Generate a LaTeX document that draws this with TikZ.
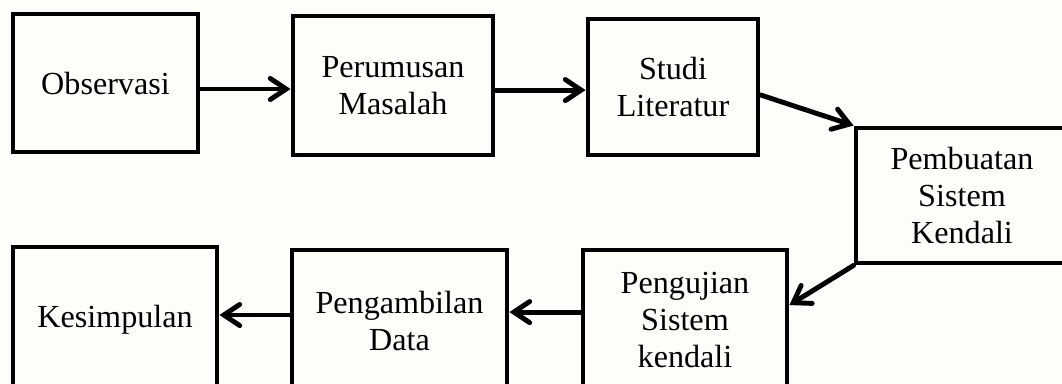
\documentclass[tikz,border=0pt]{standalone}
\usepackage{fontspec}
\setmainfont{Liberation Serif}
\usetikzlibrary{arrows.meta}
\definecolor{kertas}{RGB}{253,253,250}
\tikzset{
    blok/.style={draw, line width=2.8pt, align=center, inner sep=0pt,
        font=\fontsize{18.3}{21.3}\selectfont},
    panah/.style={line width=2.8pt, line cap=round,
        -{Straight Barb[length=9pt, width=12pt, line cap=round]}}
}
\begin{document}
\begin{tikzpicture}[x=0.02cm, y=-0.02cm] % one unit = one pixel of the page
    % Page and background
    \useasboundingbox (0, 0) rectangle (1062, 383);
    \fill[kertas] (0, 0) rectangle (1062, 383);

    % Top row
    \node[blok, minimum width=3.70cm, minimum height=2.76cm] (obs) at (105.5, 83) {Observasi};
    \node[blok, minimum width=4.00cm, minimum height=2.78cm] (rumus) at (393, 85.5) {Perumusan\\Masalah};
    \node[blok, minimum width=3.40cm, minimum height=2.72cm] (studi) at (673, 87) {Studi\\Literatur};

    % Right box
    \node[blok, minimum width=4.24cm, minimum height=2.70cm] (buat) at (962, 195.5) {Pembuatan\\Sistem\\Kendali};

    % Bottom row
    \node[blok, minimum width=4.08cm, minimum height=2.80cm] (uji) at (685, 320) {Pengujian\\Sistem\\kendali};
    \node[blok, minimum width=4.30cm, minimum height=2.84cm] (data) at (399.5, 321) {Pengambilan\\Data};
    \node[blok, minimum width=4.08cm, minimum height=2.92cm] (simpul) at (115, 320) {Kesimpulan};

    % Arrows between the steps
    \draw[panah] ([yshift=-3.4pt]obs.east) -- ([yshift=-3.4pt]obs.east -| rumus.west);
    \draw[panah] ([yshift=-2.6pt]rumus.east) -- ([yshift=-2.6pt]rumus.east -| studi.west);
    \draw[panah] ([yshift=-4.5pt]studi.east) -- (buat.north west);
    \draw[panah] (buat.south west) -- ([yshift=8.5pt]uji.east);
    \draw[panah] ([yshift=4.5pt]uji.west) -- ([yshift=4.5pt]uji.west -| data.east);
    \draw[panah] ([yshift=3.4pt]data.west) -- ([yshift=3.4pt]data.west -| simpul.east);
\end{tikzpicture}
\end{document}
